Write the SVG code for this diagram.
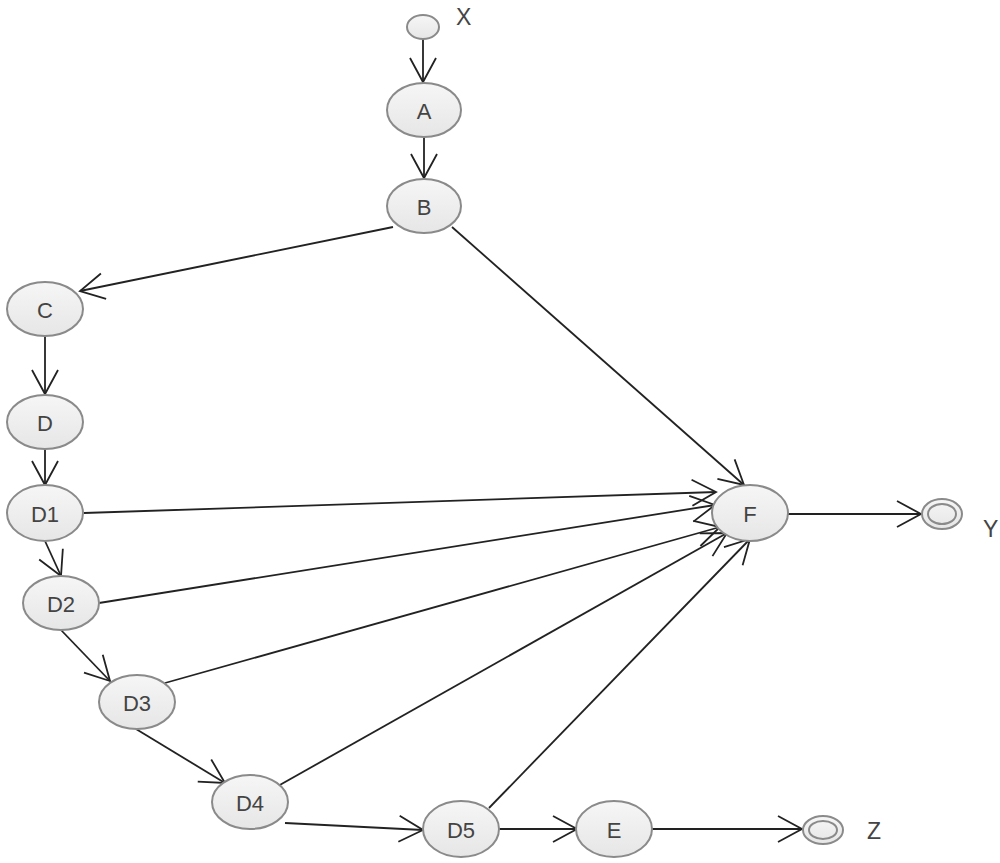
<svg xmlns="http://www.w3.org/2000/svg" width="1000" height="863" viewBox="0 0 1000 863">
<style>
.n{fill:url(#g);stroke:#8a8a8a;stroke-width:2}
.t{font-family:"Liberation Sans",Arial,sans-serif;font-size:22px;fill:#444;text-anchor:middle;dominant-baseline:central}
.l{font-family:"Liberation Sans",Arial,sans-serif;font-size:23px;fill:#444}
.e{stroke:#222;stroke-width:1.8;fill:none;marker-end:url(#a)}
</style>
<defs>
<linearGradient id="g" x1="0" y1="0" x2="0" y2="1"><stop offset="0" stop-color="#f6f6f6"/><stop offset="1" stop-color="#e6e6e6"/></linearGradient>
<marker id="a" markerUnits="userSpaceOnUse" markerWidth="30" markerHeight="30" viewBox="-26 -15 30 30" refX="0" refY="0" orient="auto" overflow="visible">
<path d="M-24,-13 L0,0 L-24,13" fill="none" stroke="#222" stroke-width="1.8"/>
</marker>
</defs>
<g id="connectors">
<line class="e" x1="423" y1="39" x2="423" y2="82"/>
<line class="e" x1="424" y1="137" x2="424" y2="178"/>
<line class="e" x1="393" y1="227" x2="80" y2="291"/>
<line class="e" x1="452" y1="227" x2="744" y2="485"/>
<line class="e" x1="45" y1="337" x2="45" y2="394"/>
<line class="e" x1="45" y1="450" x2="45" y2="485"/>
<line class="e" x1="45" y1="541" x2="61" y2="576"/>
<line class="e" x1="84" y1="513" x2="716" y2="492"/>
<line class="e" x1="99" y1="603" x2="715" y2="505"/>
<line class="e" x1="61" y1="630" x2="110" y2="681"/>
<line class="e" x1="165" y1="683" x2="720" y2="527"/>
<line class="e" x1="136" y1="729" x2="225" y2="783"/>
<line class="e" x1="278" y1="786" x2="727" y2="533"/>
<line class="e" x1="285" y1="823" x2="423" y2="830"/>
<line class="e" x1="489" y1="808" x2="750" y2="539"/>
<line class="e" x1="498" y1="829" x2="577" y2="829"/>
<line class="e" x1="652" y1="829" x2="802" y2="829"/>
<line class="e" x1="788" y1="514" x2="921" y2="514"/>
</g>
<g id="X"><ellipse class="n" cx="423" cy="27" rx="16" ry="12"/><text class="l" x="456" y="25">X</text></g>
<g id="A"><ellipse class="n" cx="424" cy="110" rx="37" ry="27"/><text class="t" x="424" y="111">A</text></g>
<g id="B"><ellipse class="n" cx="424" cy="206" rx="37" ry="27"/><text class="t" x="424" y="207">B</text></g>
<g id="C"><ellipse class="n" cx="45" cy="309" rx="38" ry="27"/><text class="t" x="45" y="310">C</text></g>
<g id="D"><ellipse class="n" cx="45" cy="422" rx="38" ry="27"/><text class="t" x="45" y="423">D</text></g>
<g id="D1"><ellipse class="n" cx="45" cy="513" rx="38" ry="28"/><text class="t" x="45" y="514">D1</text></g>
<g id="D2"><ellipse class="n" cx="61" cy="603" rx="38" ry="27"/><text class="t" x="61" y="604">D2</text></g>
<g id="D3"><ellipse class="n" cx="137" cy="702" rx="38" ry="27"/><text class="t" x="137" y="703">D3</text></g>
<g id="D4"><ellipse class="n" cx="250" cy="802" rx="38" ry="27"/><text class="t" x="250" y="803">D4</text></g>
<g id="D5"><ellipse class="n" cx="461" cy="829" rx="38" ry="28"/><text class="t" x="461" y="830">D5</text></g>
<g id="E"><ellipse class="n" cx="614" cy="829" rx="38" ry="28"/><text class="t" x="614" y="830">E</text></g>
<g id="F"><ellipse class="n" cx="750" cy="513" rx="38" ry="28"/><text class="t" x="750" y="514">F</text></g>
<g id="Y"><ellipse class="n" cx="942" cy="514" rx="20" ry="15"/><ellipse cx="942" cy="514" rx="14" ry="10" fill="none" stroke="#8a8a8a" stroke-width="2"/><text class="l" x="983" y="537">Y</text></g>
<g id="Z"><ellipse class="n" cx="823" cy="830" rx="20" ry="14"/><ellipse cx="823" cy="830" rx="14" ry="9" fill="none" stroke="#8a8a8a" stroke-width="2"/><text class="l" x="867" y="839">Z</text></g>
</svg>
